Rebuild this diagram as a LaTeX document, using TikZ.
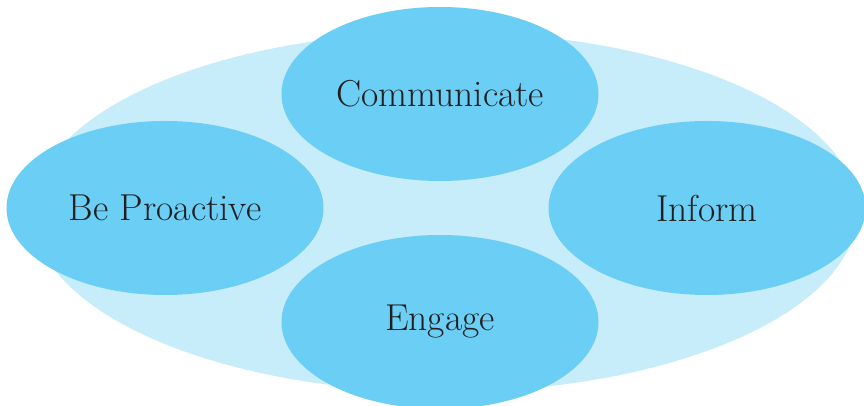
\documentclass[tikz,border=0pt]{standalone}
\usepackage{tikz}
\usetikzlibrary{shapes.geometric}
\definecolor{ring_light}{RGB}{199,236,250}
\definecolor{node_blue}{RGB}{106,206,245}
\definecolor{text_dark}{RGB}{35,31,32}

\begin{document}
\begin{tikzpicture}[x=1pt,y=1pt]
    \tikzstyle{blob}=[ellipse, draw=none, fill=node_blue, minimum width=317pt, minimum height=174pt, inner sep=0pt, text=text_dark, font=\fontsize{37.5}{42}\selectfont]
    \tikzstyle{ring}=[ellipse, draw=none, fill=ring_light, minimum width=824pt, minimum height=360pt, inner sep=0pt]

    \useasboundingbox (0,0) rectangle (864,406);
    \node[ring] (ring)    at (445,194) {};
    \node[blob] (comm)    at (440,312) {Communicate};
    \node[blob] (proact)  at (165,198) {Be Proactive};
    \node[blob] (inform)  at (707,198) {Inform};
    \node[blob] (engage)  at (440,84)  {Engage};
\end{tikzpicture}
\end{document}
